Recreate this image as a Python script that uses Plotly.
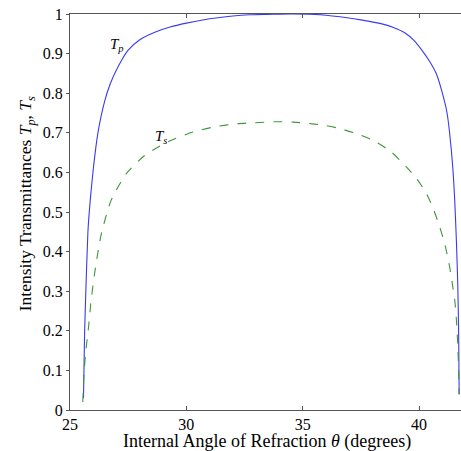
import plotly.graph_objects as go

theta_p = [25.58, 25.60, 25.63, 25.67, 25.77, 25.87, 26.01, 26.20, 26.49, 26.73, 27.06, 27.49,
           28.00, 28.70, 29.30, 30.00, 30.70, 31.43, 32.00, 32.70, 33.50, 34.50, 35.50, 36.00,
           36.60, 37.20, 37.80, 38.40, 38.90, 39.40, 39.80, 40.10, 40.40, 40.74, 41.00, 41.20,
           41.31, 41.45, 41.53, 41.60, 41.66, 41.70, 41.72]
T_p = [0.03, 0.10, 0.20, 0.28, 0.45, 0.53, 0.614, 0.70, 0.78, 0.824, 0.866, 0.908,
       0.935, 0.955, 0.967, 0.977, 0.985, 0.991, 0.995, 0.998, 0.999, 1.0, 0.999, 0.997,
       0.993, 0.988, 0.982, 0.975, 0.966, 0.952, 0.932, 0.91, 0.885, 0.849, 0.80, 0.75,
       0.70, 0.61, 0.53, 0.43, 0.32, 0.19, 0.04]

theta_s = [25.55, 25.60, 25.68, 25.77, 25.91, 26.10, 26.35, 26.77, 27.42, 28.13, 28.56, 29.30,
           30.28, 31.20, 32.20, 33.15, 33.80, 34.60, 35.50, 36.00, 36.58, 37.30, 38.02, 38.80,
           39.45, 39.90, 40.31, 40.60, 40.88, 41.10, 41.31, 41.45, 41.53, 41.60, 41.67, 41.72]
T_s = [0.02, 0.09, 0.15, 0.194, 0.278, 0.362, 0.446, 0.53, 0.597, 0.639, 0.656, 0.68,
       0.702, 0.715, 0.723, 0.726, 0.728, 0.727, 0.722, 0.718, 0.711, 0.698, 0.681, 0.652,
       0.614, 0.584, 0.547, 0.51, 0.463, 0.42, 0.362, 0.31, 0.278, 0.23, 0.152, 0.04]

x_ticks = [25, 30, 35, 40]
y_ticks = [0, 0.1, 0.2, 0.3, 0.4, 0.5, 0.6, 0.7, 0.8, 0.9, 1]
y_tick_text = ["0", "0.1", "0.2", "0.3", "0.4", "0.5", "0.6", "0.7", "0.8", "0.9", "1"]

x_title = "Internal Angle of Refraction <i>θ</i> (degrees)"
y_title = "Intensity Transmittances <i>T</i><sub><i>p</i></sub>, <i>T</i><sub><i>s</i></sub>"

FONT = "Liberation Serif"

fig = go.Figure()
fig.add_trace(go.Scatter(x=theta_p, y=T_p, mode="lines",
                         line=dict(color="#3a3aee", width=1.1, shape="spline", smoothing=0.6),
                         showlegend=False))
fig.add_trace(go.Scatter(x=theta_s, y=T_s, mode="lines",
                         line=dict(color="#3d963d", width=1.1, dash="dash", shape="spline", smoothing=0.6),
                         showlegend=False))

fig.add_annotation(x=27.02, y=0.922, text="<i>T<sub>p</sub></i>", showarrow=False,
                   font=dict(family=FONT, size=15, color="black"))
fig.add_annotation(x=28.9, y=0.689, text="<i>T<sub>s</sub></i>", showarrow=False,
                   font=dict(family=FONT, size=15, color="black"))

# axis titles
fig.add_annotation(xref="paper", yref="paper", x=0.505, y=-0.079, yanchor="middle",
                   text=x_title, showarrow=False,
                   font=dict(family=FONT, size=18, color="black"))
fig.add_annotation(xref="paper", yref="paper", x=-0.111, y=0.521, xanchor="center",
                   yanchor="middle", textangle=-90, text=y_title, showarrow=False,
                   font=dict(family=FONT, size=17.5, color="black"))

tickfont = dict(family=FONT, size=16, color="black")

fig.update_layout(
    width=461, height=451,
    margin=dict(l=70, r=0, t=14, b=41, autoexpand=False),
    paper_bgcolor="white", plot_bgcolor="white",
    font=dict(family=FONT),
    xaxis=dict(range=[25, 41.8], tickvals=x_ticks, automargin=False,
               showgrid=False, zeroline=False, showline=True, mirror="ticks",
               linecolor="#555555", linewidth=1, ticks="inside", ticklen=4,
               tickcolor="#555555", tickfont=tickfont),
    yaxis=dict(range=[0, 1], tickvals=y_ticks, ticktext=y_tick_text, automargin=False,
               showgrid=False, zeroline=False, showline=True, mirror=True,
               linecolor="#555555", linewidth=1, ticks="outside", ticklen=3,
               tickcolor="#555555", tickfont=tickfont),
)

fig.write_html("out.html", config={"displayModeBar": False},
               post_script="document.body.style.margin='0px';document.body.style.overflow='hidden';")
